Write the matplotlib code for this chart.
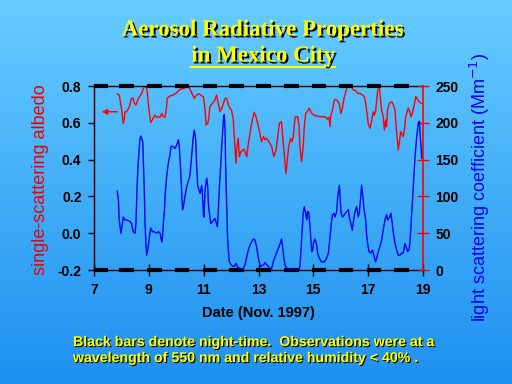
import numpy as np
import matplotlib
matplotlib.use("Agg")
import matplotlib.pyplot as plt
import matplotlib.patheffects as pe
from matplotlib.lines import Line2D

# --- data (day of Nov. 1997)
alb_day = [7.85, 7.92, 8.01, 8.07, 8.11, 8.13, 8.19, 8.29, 8.37, 8.43, 8.47, 8.53, 8.62, 8.74,
           8.80, 8.86, 8.92, 8.95, 8.98, 9.02, 9.07, 9.14, 9.22, 9.29, 9.35, 9.41, 9.47, 9.53,
           9.59, 9.65, 9.67, 9.77, 9.89, 10.02, 10.14, 10.28, 10.44,
           10.56, 10.66, 10.74, 10.83, 10.93, 10.99, 11.05, 11.09, 11.15, 11.19, 11.23, 11.32,
           11.41, 11.47, 11.53, 11.60, 11.68, 11.78, 11.84, 11.90, 11.96, 12.02, 12.08, 12.12,
           12.14, 12.18, 12.20, 12.26, 12.30, 12.36, 12.45, 12.51, 12.57, 12.63, 12.69, 12.75,
           12.84, 12.91, 12.97,
           13.05, 13.11, 13.18, 13.24, 13.30, 13.38, 13.48, 13.56, 13.64, 13.70, 13.76, 13.84,
           13.88, 13.94, 14.00, 14.05, 14.10, 14.17, 14.22, 14.27, 14.31, 14.34, 14.43, 14.48,
           14.51, 14.57, 14.63, 14.67, 14.72, 14.78, 14.85, 14.94, 15.02, 15.12, 15.24, 15.36,
           15.46, 15.52, 15.57, 15.61, 15.64, 15.70, 15.75,
           15.79, 15.85, 15.94, 16.01, 16.06, 16.12, 16.18, 16.25, 16.34, 16.40, 16.46, 16.54,
           16.62, 16.70, 16.79, 16.86, 16.91, 16.96, 17.00, 17.07, 17.13, 17.19, 17.22, 17.27,
           17.31, 17.35, 17.41, 17.46, 17.49, 17.55, 17.59, 17.64, 17.67, 17.71, 17.77, 17.86,
           17.92, 17.98, 18.01, 18.06, 18.10, 18.13, 18.19, 18.22, 18.28, 18.32, 18.37, 18.42,
           18.46, 18.52, 18.56, 18.61, 18.64, 18.68, 18.74, 18.80, 18.85, 18.93]
albedo = [0.757, 0.751, 0.670, 0.597, 0.624, 0.660, 0.660, 0.688, 0.733, 0.733, 0.706, 0.697,
          0.733, 0.760, 0.787, 0.800, 0.787, 0.760, 0.706, 0.651, 0.601, 0.619, 0.642, 0.630,
          0.633, 0.630, 0.651, 0.633, 0.630, 0.688, 0.733, 0.746, 0.751, 0.764, 0.782, 0.787,
          0.800,
          0.764, 0.733, 0.751, 0.757, 0.746, 0.742, 0.670, 0.588, 0.597, 0.633, 0.688, 0.706,
          0.724, 0.751, 0.706, 0.660, 0.688, 0.733, 0.733, 0.697, 0.679, 0.670, 0.615, 0.516,
          0.470, 0.380, 0.452, 0.516, 0.416, 0.443, 0.456, 0.443, 0.416, 0.488, 0.543, 0.597,
          0.657, 0.633, 0.597,
          0.543, 0.497, 0.525, 0.507, 0.516, 0.497, 0.470, 0.416, 0.452, 0.525, 0.597, 0.606,
          0.525, 0.434, 0.325, 0.398, 0.470, 0.516, 0.497, 0.525, 0.597, 0.633, 0.633, 0.579,
          0.470, 0.389, 0.470, 0.579, 0.651, 0.660, 0.679, 0.651, 0.642, 0.637, 0.633, 0.633,
          0.630, 0.619, 0.630, 0.579, 0.642, 0.670, 0.715,
          0.727, 0.724, 0.706, 0.651, 0.679, 0.733, 0.769, 0.800, 0.800, 0.793, 0.778, 0.775,
          0.760, 0.760, 0.751, 0.742, 0.706, 0.651, 0.597, 0.570, 0.615, 0.660, 0.642, 0.660,
          0.724, 0.778, 0.787, 0.715, 0.670, 0.633, 0.561, 0.615, 0.579, 0.670, 0.706, 0.715,
          0.697, 0.670, 0.597, 0.516, 0.452, 0.488, 0.552, 0.543, 0.525, 0.561, 0.633, 0.660,
          0.679, 0.660, 0.633, 0.651, 0.670, 0.697, 0.742, 0.727, 0.715, 0.706]

scat_day = [7.85, 7.89, 7.92, 7.98, 8.02, 8.07, 8.13, 8.19, 8.31, 8.37, 8.43, 8.50, 8.53, 8.56,
            8.58, 8.62, 8.68, 8.71, 8.78, 8.80, 8.84, 8.86, 8.90, 8.92, 8.96, 9.02, 9.07, 9.13,
            9.19, 9.29, 9.35, 9.41, 9.47, 9.50, 9.53, 9.57, 9.60, 9.65, 9.71, 9.77, 9.81, 9.89,
            9.95, 10.02, 10.08, 10.11, 10.16, 10.20, 10.23, 10.26, 10.32, 10.38, 10.46,
            10.50, 10.56, 10.62, 10.66, 10.71, 10.74, 10.78, 10.83, 10.87, 10.93, 10.96, 10.99,
            11.01, 11.05, 11.11, 11.15, 11.17, 11.21, 11.26, 11.32, 11.41, 11.47, 11.50, 11.53,
            11.57, 11.61, 11.66, 11.69, 11.72, 11.75, 11.78, 11.80, 11.84, 11.87, 11.90, 11.94,
            12.00, 12.06, 12.12, 12.18, 12.24, 12.32, 12.45, 12.51, 12.57, 12.63, 12.69, 12.75,
            12.81, 12.87, 12.93, 12.97, 13.02, 13.09, 13.18, 13.24,
            13.30, 13.36, 13.42, 13.48, 13.54, 13.60, 13.66, 13.72, 13.81, 13.84, 13.88, 13.93,
            13.98, 14.05, 14.15, 14.27, 14.48, 14.51, 14.55, 14.60, 14.63, 14.67, 14.72, 14.76,
            14.79, 14.83, 14.88, 14.91, 14.94, 14.98, 15.00, 15.06, 15.12, 15.16, 15.22, 15.30,
            15.39, 15.46, 15.55, 15.61, 15.67, 15.70, 15.75, 15.79, 15.85, 15.89, 15.95,
            15.98, 16.01, 16.06, 16.13, 16.21, 16.28, 16.31, 16.37, 16.42, 16.47, 16.52, 16.58,
            16.64, 16.68, 16.74, 16.76, 16.80, 16.85, 16.91, 16.94, 16.98, 17.03, 17.10, 17.16,
            17.22, 17.27, 17.31, 17.37, 17.43, 17.49, 17.55, 17.61, 17.67, 17.71, 17.76, 17.83,
            17.88, 17.92, 17.98, 18.04, 18.10, 18.16, 18.22, 18.28, 18.34, 18.38, 18.44, 18.49,
            18.52, 18.56, 18.61, 18.66, 18.71, 18.77, 18.83, 18.87, 18.90, 18.93, 18.95]
scattering = [107, 95, 68, 50, 59, 72, 68, 68, 66, 63, 52, 50, 63, 100,
              122, 150, 179, 182, 174, 150, 100, 63, 32, 20, 27, 45, 57, 52,
              52, 50, 52, 50, 38, 45, 63, 82, 104, 127, 145, 156, 168, 168,
              165, 170, 177, 168, 136, 104, 82, 86, 100, 113, 123,
              129, 154, 181, 190, 177, 145, 115, 109, 104, 115, 100, 77,
              72, 109, 125, 113, 91, 77, 63, 66, 70, 63, 59, 77,
              109, 136, 168, 186, 204, 211, 190, 145, 86, 45, 27, 11,
              7, 5, 5, 9, 4, 2, 2, 7, 18, 27, 34, 38,
              42, 41, 32, 23, 11, 5, 7, 10,
              7, 5, 2, 2, 11, 18, 23, 29, 38, 42, 32, 14,
              5, 2, 1, 0, 0, 5, 27, 59, 77, 86, 77, 68,
              79, 79, 59, 41, 25, 27, 36, 42, 34, 23, 16, 11,
              11, 14, 23, 45, 68, 75, 77, 72, 79, 100, 115,
              95, 77, 72, 75, 79, 82, 72, 63, 54, 68, 79, 86,
              72, 79, 104, 115, 102, 82, 68, 50, 36, 25, 23, 27,
              18, 11, 16, 25, 32, 41, 54, 68, 75, 68, 70, 77,
              63, 50, 36, 27, 20, 20, 23, 23, 36, 32, 25, 27,
              36, 59, 91, 122, 154, 181, 199, 202, 181, 168, 152]

night_start = [7.0, 7.92, 8.93, 9.95, 10.97, 11.93, 12.92, 13.93, 14.94, 15.94, 16.95, 17.95]
night_end = [7.5, 8.47, 9.48, 10.47, 11.49, 12.47, 13.46, 14.48, 15.47, 16.45, 17.47, 18.5]

day_ticks = [7, 9, 11, 13, 15, 17, 19]
alb_ticks = [-0.2, 0.0, 0.2, 0.4, 0.6, 0.8]
scat_ticks = [0, 50, 100, 150, 200, 250]

plt.rcParams['font.family'] = ['Liberation Sans', 'DejaVu Sans']

W, H = 512, 384
fig = plt.figure(figsize=(W / 100, H / 100), dpi=100)

# fondo degradado azul
bg = fig.add_axes([0, 0, 1, 1], zorder=-10)
top_c = np.array([102, 204, 255]) / 255
bot_c = np.array([30, 144, 240]) / 255
g = np.linspace(0, 1, 256)[:, None, None]
bg.imshow(top_c * (1 - g) + bot_c * g, aspect='auto', extent=[0, 1, 0, 1])
bg.axis('off')

ax = fig.add_axes([94 / W, 1 - 270 / H, 329 / W, 184 / H])
ax.set_facecolor('none')
ax2 = ax.twinx()

ax.plot(alb_day, albedo, color='#ff0000', lw=1.0)
ax2.plot(scat_day, scattering, color='#0000ff', lw=1.0)

ax.set_xlim(7, 19)
ax.set_ylim(-0.2, 0.8)
ax2.set_ylim(0, 250)

# barras de noche
for y in (0.8, -0.2):
    ax.hlines([y] * len(night_start), night_start, night_end, color='black', lw=3,
              clip_on=False, zorder=5)

ax.annotate('', xy=(7.18, 0.66), xytext=(7.95, 0.66),
            arrowprops=dict(arrowstyle='-|>', color='red', lw=1, mutation_scale=8))

tick_font = dict(fontsize=10, fontweight='bold')
ax.set_xticks(day_ticks, labels=[str(d) for d in day_ticks], **tick_font)
ax.set_yticks(alb_ticks, labels=[f'{v:.1f}' for v in alb_ticks], **tick_font)
ax2.set_yticks(scat_ticks, labels=[str(v) for v in scat_ticks], **tick_font)

ax.tick_params(axis='x', direction='inout', length=8, width=1, pad=5)
ax.tick_params(axis='y', direction='out', length=4, width=1, pad=5)
ax2.tick_params(axis='y', direction='inout', length=8, width=1, color='red',
                labelcolor='black', pad=5)

for s in ('top', 'left', 'bottom'):
    ax2.spines[s].set_visible(False)
ax.spines['right'].set_visible(False)
ax2.spines['right'].set_color('red')
ax2.spines['right'].set_linewidth(1.2)
for s in ('top', 'left', 'bottom'):
    ax.spines[s].set_linewidth(1.0)

ax.set_xlabel('Date (Nov. 1997)', fontsize=10.5, fontweight='bold', labelpad=7)
ax.set_ylabel('single-scattering albedo', color='#ee0000', fontsize=13)
ax.yaxis.set_label_coords(-0.164, 0.49)
ax.yaxis.label.set_va('center')
ax2.set_ylabel('light scattering coefficient (Mm$^{-1}$)', color='#0000ee', fontsize=13)
ax2.yaxis.set_label_coords(1.173, 0.45)
ax2.yaxis.label.set_va('center')

# titulo amarillo con sombra
shadow = [pe.withSimplePatchShadow(offset=(1.4, -1.4), shadow_rgbFace='black', alpha=1)]
fig.text(262 / W, 1 - 30 / H, 'Aerosol Radiative Properties', ha='center', va='center',
         family='Liberation Serif', fontweight='bold', fontsize=16.5, color='#ffff00',
         path_effects=shadow)
t2 = fig.text(263 / W, 1 - 56 / H, 'in Mexico City', ha='center', va='center',
              family='Liberation Serif', fontweight='bold', fontsize=16.5, color='#ffff00',
              path_effects=shadow)
fig.canvas.draw()
bb = t2.get_window_extent().transformed(fig.transFigure.inverted())
fig.add_artist(Line2D([bb.x0, bb.x1], [1 - 67 / H] * 2, transform=fig.transFigure,
                      color='#ffff00', lw=1.6, path_effects=shadow))

note_shadow = [pe.withSimplePatchShadow(offset=(0.8, -0.8), shadow_rgbFace='black', alpha=1)]
fig.text(73 / W, 1 - 342 / H, 'Black bars denote night-time.  Observations were at a',
         ha='left', va='center', fontsize=10.2, fontweight='bold', color='#ffff00',
         path_effects=note_shadow)
fig.text(73 / W, 1 - 358 / H, 'wavelength of 550 nm and relative humidity < 40% .',
         ha='left', va='center', fontsize=10.2, fontweight='bold', color='#ffff00',
         path_effects=note_shadow)

fig.savefig('out.png', dpi=100)
